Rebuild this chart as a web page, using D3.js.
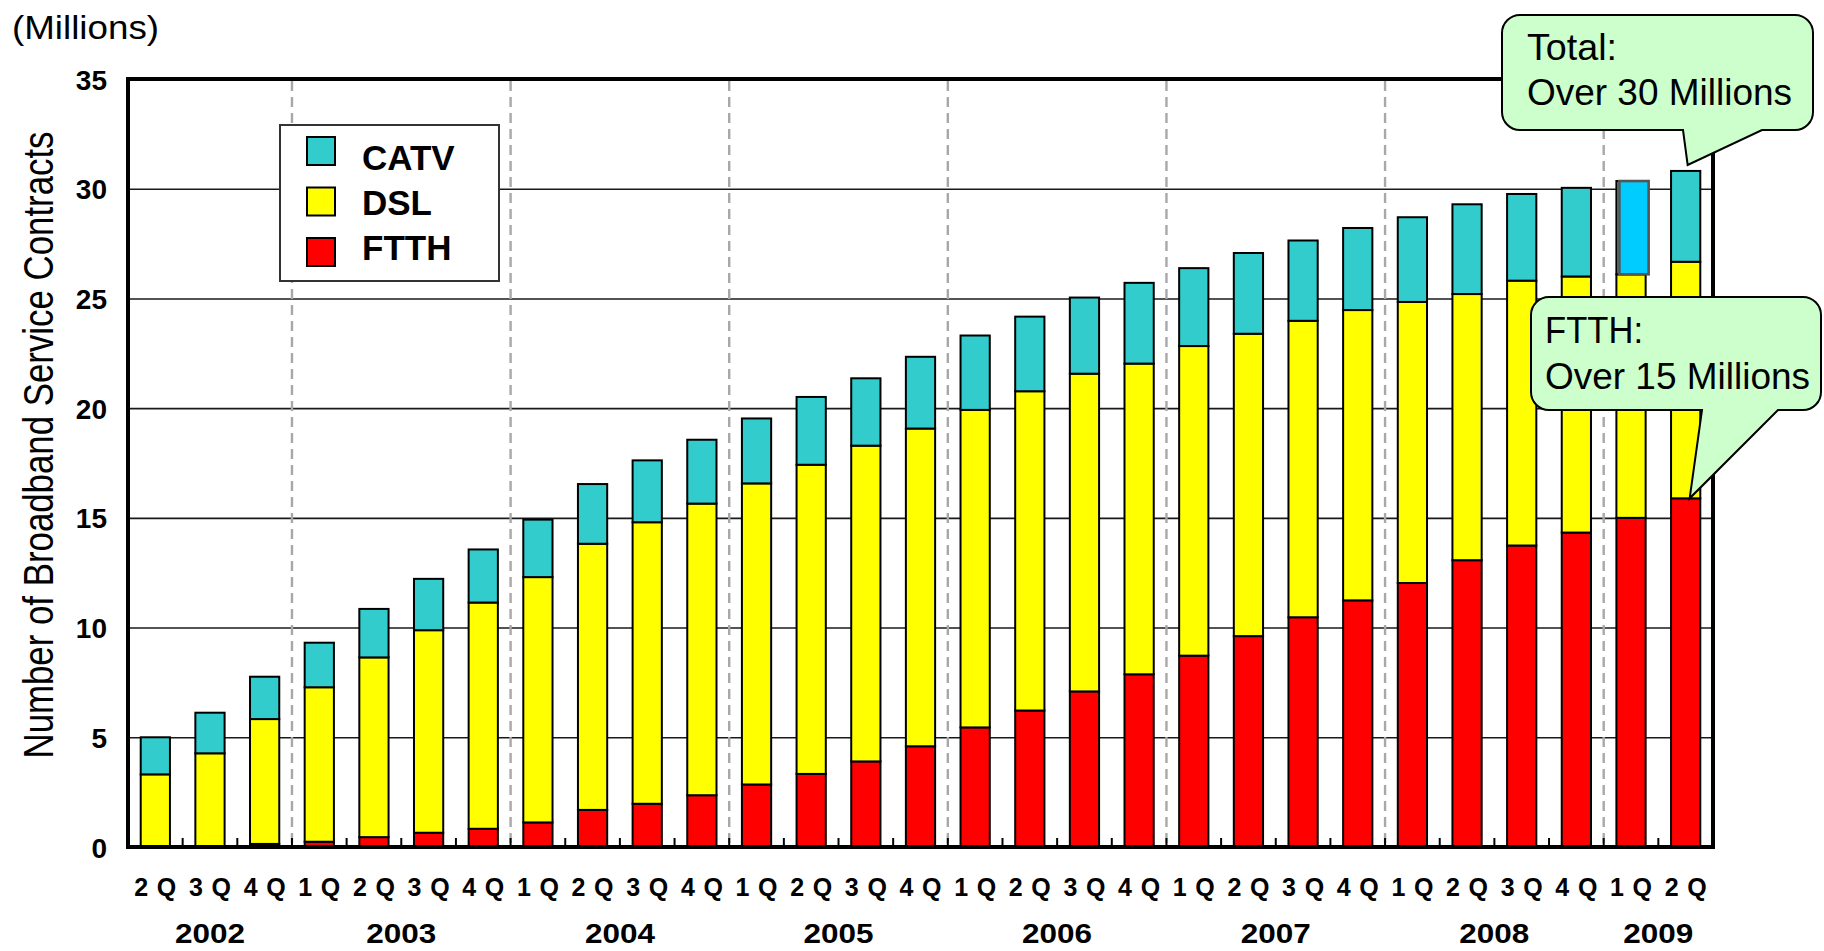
<!DOCTYPE html>
<html>
<head>
<meta charset="utf-8">
<script src="https://cdn.jsdelivr.net/npm/d3@7"></script>
<style>
  html, body { margin: 0; padding: 0; background: #ffffff; }
  svg { display: block; }
  .bold { font-family: "Liberation Sans", Arial, sans-serif; font-weight: bold; fill: #000; }
  .narrow { font-family: "Liberation Sans Narrow", "Arial Narrow", "Liberation Sans", Arial, sans-serif; fill: #000; }
</style>
</head>
<body>
<svg id="chart" width="1824" height="951"></svg>
<script>
// Quarterly broadband contracts in Japan (millions), 2002 2Q - 2009 2Q
const periods = [
  "2002 2Q", "2002 3Q", "2002 4Q",
  "2003 1Q", "2003 2Q", "2003 3Q", "2003 4Q",
  "2004 1Q", "2004 2Q", "2004 3Q", "2004 4Q",
  "2005 1Q", "2005 2Q", "2005 3Q", "2005 4Q",
  "2006 1Q", "2006 2Q", "2006 3Q", "2006 4Q",
  "2007 1Q", "2007 2Q", "2007 3Q", "2007 4Q",
  "2008 1Q", "2008 2Q", "2008 3Q", "2008 4Q",
  "2009 1Q", "2009 2Q"
];
const ftth = [0.02, 0.03, 0.14, 0.24, 0.45, 0.65, 0.83, 1.12, 1.69, 1.97, 2.36,
              2.85, 3.33, 3.90, 4.59, 5.45, 6.22, 7.09, 7.87, 8.72, 9.61, 10.47,
              11.24, 12.03, 13.07, 13.74, 14.33, 15.00, 15.89];
const dsl  = [3.29, 4.24, 5.69, 7.04, 8.19, 9.23, 10.31, 11.18, 12.13, 12.83, 13.29,
              13.72, 14.09, 14.39, 14.48, 14.47, 14.55, 14.48, 14.16, 14.11, 13.78, 13.51,
              13.23, 12.81, 12.13, 12.07, 11.67, 11.10, 10.78];
const catv = [1.69, 1.85, 1.93, 2.03, 2.21, 2.34, 2.42, 2.62, 2.72, 2.82, 2.91,
              2.96, 3.09, 3.07, 3.27, 3.39, 3.40, 3.47, 3.68, 3.55, 3.68, 3.66,
              3.74, 3.86, 4.09, 3.95, 4.04, 4.25, 4.14];
const seriesKeys = ["FTTH", "DSL", "CATV"];
const yTicks = [0, 5, 10, 15, 20, 25, 30, 35];
const legendOrder = ["CATV", "DSL", "FTTH"];
const highlightPeriod = "2009 1Q";   // latest-but-one CATV segment shown in bright blue
const totalNote = ["Total:", "Over 30 Millions"];
const ftthNote = ["FTTH:", "Over 15 Millions"];

const colors = { FTTH: "#ff0000", DSL: "#ffff00", CATV: "#33cccc" };

const rows = periods.map((p, i) => ({ period: p, FTTH: ftth[i], DSL: dsl[i], CATV: catv[i] }));
const stacked = d3.stack().keys(seriesKeys)(rows);

const svg = d3.select("#chart");
const plot = { left: 128, right: 1713, top: 79, bottom: 847 };

const x = d3.scaleBand().domain(periods).range([plot.left, plot.right]).padding(0);
const y = d3.scaleLinear().domain([0, 35]).range([plot.bottom, plot.top]);
const barW = x.bandwidth() * 0.535;
const barX = p => x(p) + (x.bandwidth() - barW) / 2;
const mid = p => x(p) + x.bandwidth() / 2;

// horizontal gridlines and y tick labels
const yAxis = d3.axisLeft(y).tickValues(yTicks)
  .tickSize(-(plot.right - plot.left)).tickPadding(21).tickFormat(d3.format("d"));
const gy = svg.append("g").attr("transform", `translate(${plot.left},0)`).call(yAxis);
gy.select(".domain").remove();
gy.selectAll(".tick line").attr("stroke", "#1a1a1a").attr("stroke-width", 1.6);
gy.selectAll(".tick text").attr("class", "bold").style("font-size", "28px").attr("dy", "0.36em");

// year separators (dashed) before each first quarter
const yearStarts = periods.filter((p, i) => i > 0 && p.endsWith("1Q"));
svg.append("g").selectAll("line").data(yearStarts).join("line")
  .attr("x1", p => x(p)).attr("x2", p => x(p))
  .attr("y1", plot.top + 2).attr("y2", plot.bottom)
  .attr("stroke", "#a8a8a8").attr("stroke-width", 2.4).attr("stroke-dasharray", "10,6");

// small ticks between quarters on the baseline
svg.append("g").selectAll("line").data(periods.slice(1)).join("line")
  .attr("x1", p => x(p)).attr("x2", p => x(p))
  .attr("y1", plot.bottom).attr("y2", plot.bottom - 9)
  .attr("stroke", "#000").attr("stroke-width", 2);

// stacked bars
svg.append("g").selectAll("g").data(stacked).join("g")
  .attr("fill", s => colors[s.key])
  .selectAll("rect").data(s => s.map(d => ({ d, key: s.key }))).join("rect")
  .attr("x", o => barX(o.d.data.period))
  .attr("width", barW)
  .attr("y", o => y(o.d[1]))
  .attr("height", o => y(o.d[0]) - y(o.d[1]))
  .attr("stroke", "#000").attr("stroke-width", 2);

// highlighted CATV segment
const catvLayer = stacked.find(s => s.key === "CATV");
const hi = catvLayer.find(d => d.data.period === highlightPeriod);
svg.append("rect")
  .attr("x", barX(highlightPeriod) + 3).attr("width", barW)
  .attr("y", y(hi[1])).attr("height", y(hi[0]) - y(hi[1]))
  .attr("fill", "#00ccff").attr("stroke", "#555").attr("stroke-width", 2.6);

// plot frame
svg.append("rect")
  .attr("x", plot.left).attr("y", plot.top)
  .attr("width", plot.right - plot.left).attr("height", plot.bottom - plot.top)
  .attr("fill", "none").attr("stroke", "#000").attr("stroke-width", 4);

// quarter labels
const xAxis = d3.axisBottom(x).tickSize(0).tickPadding(31).tickFormat(p => p.split(" ")[1]);
const gx = svg.append("g").attr("transform", `translate(0,${plot.bottom})`).call(xAxis);
gx.select(".domain").remove();
gx.selectAll(".tick text").attr("class", "bold").style("font-size", "25px")
  .attr("textLength", 42).attr("lengthAdjust", "spacing");

// year labels centred under each year's quarters
const years = Array.from(d3.group(periods, p => p.split(" ")[0]), ([yr, ps]) => ({ yr, ps }));
svg.append("g").selectAll("text").data(years).join("text")
  .attr("class", "bold").style("font-size", "28px")
  .attr("x", g => (mid(g.ps[0]) + mid(g.ps[g.ps.length - 1])) / 2)
  .attr("y", 943).attr("text-anchor", "middle")
  .attr("textLength", 70).attr("lengthAdjust", "spacingAndGlyphs")
  .text(g => g.yr);

// units and axis title
svg.append("text").attr("class", "narrow").style("font-size", "34px")
  .attr("x", 12).attr("y", 39).attr("textLength", 147).attr("lengthAdjust", "spacingAndGlyphs")
  .text("(Millions)");
svg.append("text").attr("class", "narrow").style("font-size", "42px")
  .attr("transform", "translate(53,445) rotate(-90)").attr("text-anchor", "middle")
  .attr("textLength", 627).attr("lengthAdjust", "spacingAndGlyphs")
  .text("Number of Broadband Service Contracts");

// legend
const lg = svg.append("g");
lg.append("rect").attr("x", 280).attr("y", 125).attr("width", 219).attr("height", 156)
  .attr("fill", "#fff").attr("stroke", "#333").attr("stroke-width", 2);
legendOrder.forEach((k, i) => {
  lg.append("rect").attr("x", 307).attr("y", 137 + i * 50.5).attr("width", 28).attr("height", 28)
    .attr("fill", colors[k]).attr("stroke", "#000").attr("stroke-width", 2);
  lg.append("text").attr("class", "bold").style("font-size", "35px")
    .attr("x", 362).attr("y", 170 + i * 45).text(k);
});

// callout bubbles
function bubble(x0, y0, x1, y1, r, ta, tb, tip) {
  return `M${x0 + r},${y0} H${x1 - r} A${r},${r} 0 0 1 ${x1},${y0 + r} V${y1 - r}` +
    ` A${r},${r} 0 0 1 ${x1 - r},${y1} H${tb} L${tip[0]},${tip[1]} L${ta},${y1}` +
    ` H${x0 + r} A${r},${r} 0 0 1 ${x0},${y1 - r} V${y0 + r} A${r},${r} 0 0 1 ${x0 + r},${y0} Z`;
}
const last = periods[periods.length - 1];
const totalLast = ftth[ftth.length - 1] + dsl[dsl.length - 1] + catv[catv.length - 1];
const notes = [
  { box: [1502, 15, 1813, 130], tail: [1683, 1762], tip: [mid(last) + 2, y(totalLast) - 6],
    lines: totalNote, tx: 1527, ty: [60, 105], tw: [90, 265] },
  { box: [1531, 297, 1821, 410], tail: [1702, 1778], tip: [mid(last) + 4, y(ftth[ftth.length - 1])],
    lines: ftthNote, tx: 1545, ty: [343, 389], tw: [98, 265] }
];
notes.forEach(n => {
  svg.append("path")
    .attr("d", bubble(n.box[0], n.box[1], n.box[2], n.box[3], 18, n.tail[0], n.tail[1], n.tip))
    .attr("fill", "#ccffcc").attr("stroke", "#000").attr("stroke-width", 2);
  n.lines.forEach((t, i) => {
    svg.append("text").attr("class", "narrow").style("font-size", "37px")
      .attr("x", n.tx).attr("y", n.ty[i])
      .attr("textLength", n.tw[i]).attr("lengthAdjust", "spacingAndGlyphs").text(t);
  });
});
</script>
</body>
</html>
